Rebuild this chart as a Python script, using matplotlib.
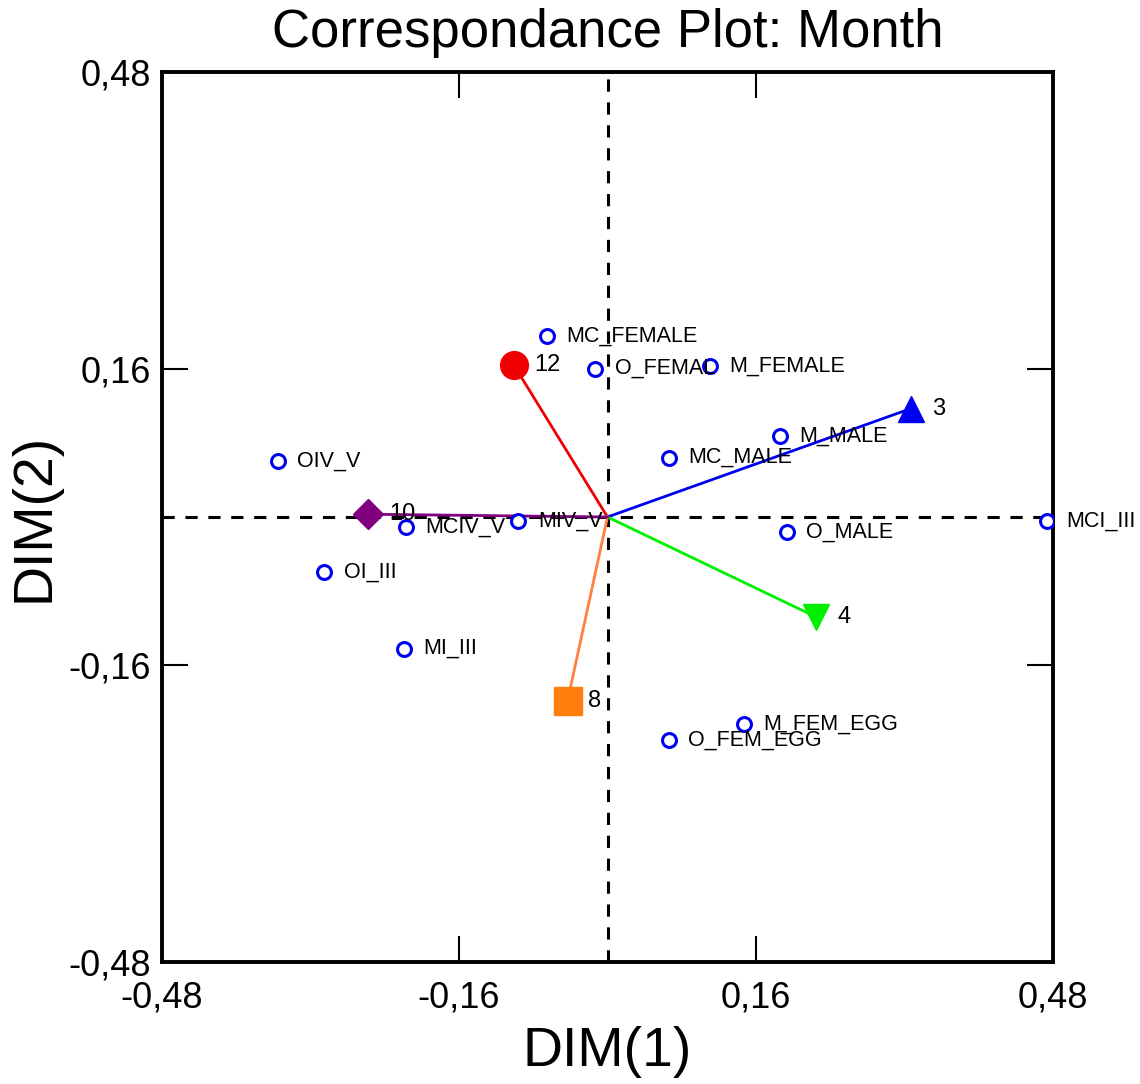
import matplotlib
matplotlib.use("Agg")
import matplotlib.pyplot as plt
from matplotlib.ticker import FixedLocator, FuncFormatter

# Column (category) coordinates
cat_names = ["MC_FEMALE", "O_FEMAL", "M_FEMALE", "M_MALE", "MC_MALE", "OIV_V",
             "MCIV_V", "MIV_V", "O_MALE", "MCI_III", "OI_III", "MI_III",
             "M_FEM_EGG", "O_FEM_EGG"]
cat_x = [-0.065, -0.013, 0.110, 0.186, 0.066, -0.355,
         -0.217, -0.096, 0.193, 0.473, -0.305, -0.219,
         0.147, 0.066]
cat_y = [0.195, 0.160, 0.163, 0.087, 0.064, 0.060,
         -0.011, -0.004, -0.016, -0.004, -0.059, -0.142,
         -0.223, -0.241]

# Row (month) coordinates
month_names = ["12", "3", "4", "8", "10"]
month_x = [-0.101, 0.327, 0.225, -0.043, -0.258]
month_y = [0.164, 0.117, -0.108, -0.198, 0.003]
month_markers = ["o", "^", "v", "s", "D"]
month_colors = ["#f00000", "#0000f0", "#00f000", "#ff7f0e", "#800080"]
line_colors = ["#f00000", "#0000f0", "#00f000", "#ff8040", "#800080"]

ticks = [-0.48, -0.16, 0.16, 0.48]

FONT = ["Liberation Sans", "DejaVu Sans"]
plt.rcParams["font.family"] = FONT

fig = plt.figure(figsize=(11.4, 10.84), dpi=100)
ax = fig.add_axes([162 / 1140, 1 - 962 / 1084, (1053 - 162) / 1140, (962 - 72) / 1084])
ax.set_xlim(-0.48, 0.48)
ax.set_ylim(-0.48, 0.48)

# origin cross-hairs
ax.axhline(0, color="black", lw=2.2, ls=(0, (4, 3.5)), zorder=1)
ax.axvline(0, color="black", lw=2.2, ls=(0, (4, 3.5)), zorder=1)

# month vectors from the origin
for mx, my, mk, mc, lc, nm in zip(month_x, month_y, month_markers,
                                  month_colors, line_colors, month_names):
    ax.plot([0, mx], [0, my], color=lc, lw=2, zorder=2)
    size = 20 if mk in ("o", "s") else 19
    if mk == "D":
        size = 15
    ax.plot(mx, my, marker=mk, ms=size, color=mc, mec=mc, zorder=4)
    ax.annotate(nm, (mx, my), xytext=(15, 0), textcoords="offset points",
                va="center", ha="left", fontsize=17, zorder=5)

# category points
ax.plot(cat_x, cat_y, ls="none", marker="o", ms=10, mfc="white",
        mec="#0000f0", mew=2.2, zorder=3)
for cx, cy, nm in zip(cat_x, cat_y, cat_names):
    ax.annotate(nm, (cx, cy), xytext=(14, 0), textcoords="offset points",
                va="center", ha="left", fontsize=15.5, zorder=5,
                annotation_clip=False)

ax.xaxis.set_major_locator(FixedLocator(ticks))
ax.yaxis.set_major_locator(FixedLocator(ticks))
fmt = FuncFormatter(lambda v, p: f"{v:.2f}".replace(".", ","))
ax.xaxis.set_major_formatter(fmt)
ax.yaxis.set_major_formatter(fmt)
ax.tick_params(direction="in", length=19, width=1.5, top=True, right=True,
               labelsize=26)
ax.tick_params(axis="x", pad=13)
ax.tick_params(axis="y", pad=8)
for s in ax.spines.values():
    s.set_linewidth(2.8)

ax.set_xlabel("DIM(1)", fontsize=40, labelpad=8)
ax.set_ylabel("DIM(2)", fontsize=40, labelpad=6)
ax.set_title("Correspondance Plot: Month", fontsize=38, pad=18)

fig.savefig("out.png", dpi=100)
